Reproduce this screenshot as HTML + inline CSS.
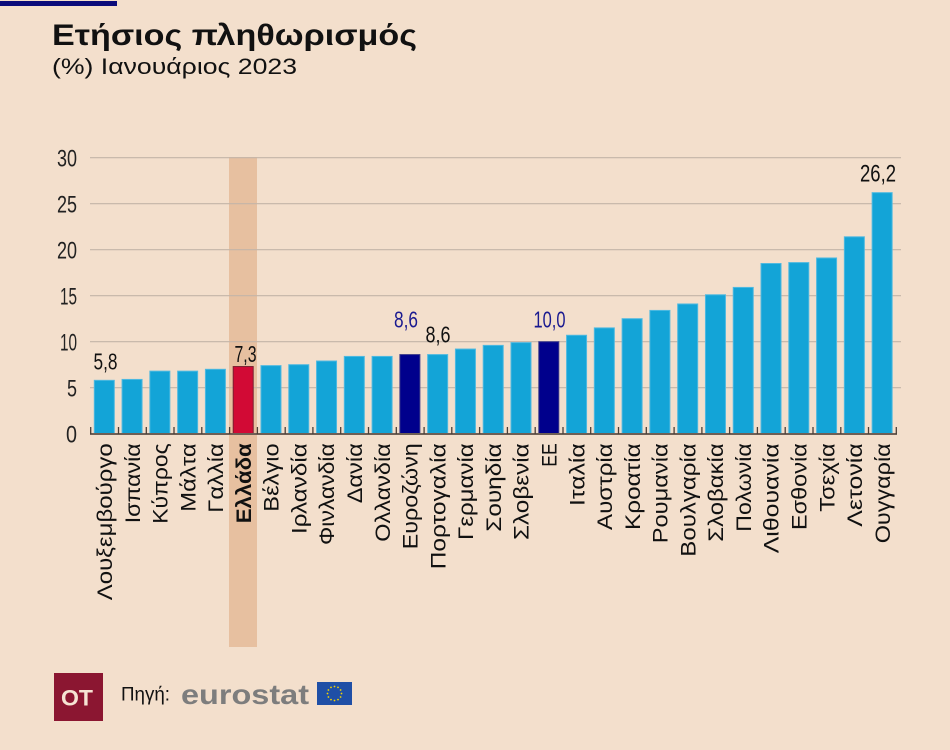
<!DOCTYPE html>
<html><head><meta charset="utf-8"><style>
html,body{margin:0;padding:0;background:#f3dfcc;}
svg{display:block;}
text{font-family:"Liberation Sans","DejaVu Sans",sans-serif;}
</style></head><body>
<svg width="950" height="750" viewBox="0 0 950 750" xmlns="http://www.w3.org/2000/svg">
<rect x="0" y="0" width="950" height="750" fill="#f3dfcc"/>
<rect x="0" y="1" width="117" height="5" fill="#0b0b7a"/>
<text x="52" y="45" font-size="30" font-weight="bold" fill="#111" textLength="365" lengthAdjust="spacingAndGlyphs">Ετήσιος πληθωρισμός</text>
<text x="52" y="74" font-size="22" fill="#111" textLength="245" lengthAdjust="spacingAndGlyphs">(%) Ιανουάριος 2023</text>

<!-- highlight band -->
<rect x="229" y="157" width="28" height="490" fill="#e7c0a0"/>

<!-- gridlines -->
<g stroke="#c3b4a8" stroke-width="1.2">
<line x1="90" y1="387.7" x2="901" y2="387.7"/>
<line x1="90" y1="341.7" x2="901" y2="341.7"/>
<line x1="90" y1="295.7" x2="901" y2="295.7"/>
<line x1="90" y1="249.7" x2="901" y2="249.7"/>
<line x1="90" y1="203.7" x2="901" y2="203.7"/>
<line x1="90" y1="157.7" x2="901" y2="157.7"/>
</g>

<!-- y tick labels -->
<g font-size="24" fill="#222" text-anchor="end">
<text x="77" y="442.5" textLength="11" lengthAdjust="spacingAndGlyphs">0</text>
<text x="77" y="396.5" textLength="10" lengthAdjust="spacingAndGlyphs">5</text>
<text x="77" y="350.5" textLength="17" lengthAdjust="spacingAndGlyphs">10</text>
<text x="77" y="304.5" textLength="17" lengthAdjust="spacingAndGlyphs">15</text>
<text x="77" y="258.5" textLength="20" lengthAdjust="spacingAndGlyphs">20</text>
<text x="77" y="212.5" textLength="20" lengthAdjust="spacingAndGlyphs">25</text>
<text x="77" y="166.5" textLength="20" lengthAdjust="spacingAndGlyphs">30</text>
</g>

<!-- bars -->
<g stroke-width="1">
<rect x="94.3" y="380.34" width="20" height="53.36" fill="#13a4d7" stroke="#4fb9e0"/>
<rect x="122.08" y="379.42" width="20" height="54.28" fill="#13a4d7" stroke="#4fb9e0"/>
<rect x="149.86" y="371.14" width="20" height="62.56" fill="#13a4d7" stroke="#4fb9e0"/>
<rect x="177.64" y="371.14" width="20" height="62.56" fill="#13a4d7" stroke="#4fb9e0"/>
<rect x="205.42" y="369.3" width="20" height="64.4" fill="#13a4d7" stroke="#4fb9e0"/>
<rect x="233.2" y="366.54" width="20" height="67.16" fill="#d20a35" stroke="#7a2030"/>
<rect x="260.98" y="365.62" width="20" height="68.08" fill="#13a4d7" stroke="#4fb9e0"/>
<rect x="288.76" y="364.7" width="20" height="69" fill="#13a4d7" stroke="#4fb9e0"/>
<rect x="316.54" y="361.02" width="20" height="72.68" fill="#13a4d7" stroke="#4fb9e0"/>
<rect x="344.32" y="356.42" width="20" height="77.28" fill="#13a4d7" stroke="#4fb9e0"/>
<rect x="372.1" y="356.42" width="20" height="77.28" fill="#13a4d7" stroke="#4fb9e0"/>
<rect x="399.88" y="354.58" width="20" height="79.12" fill="#00008c" stroke="#3a3a8a"/>
<rect x="427.66" y="354.58" width="20" height="79.12" fill="#13a4d7" stroke="#4fb9e0"/>
<rect x="455.44" y="349.06" width="20" height="84.64" fill="#13a4d7" stroke="#4fb9e0"/>
<rect x="483.22" y="345.38" width="20" height="88.32" fill="#13a4d7" stroke="#4fb9e0"/>
<rect x="511" y="342.62" width="20" height="91.08" fill="#13a4d7" stroke="#4fb9e0"/>
<rect x="538.78" y="341.7" width="20" height="92" fill="#00008c" stroke="#3a3a8a"/>
<rect x="566.56" y="335.26" width="20" height="98.44" fill="#13a4d7" stroke="#4fb9e0"/>
<rect x="594.34" y="327.9" width="20" height="105.8" fill="#13a4d7" stroke="#4fb9e0"/>
<rect x="622.12" y="318.7" width="20" height="115" fill="#13a4d7" stroke="#4fb9e0"/>
<rect x="649.9" y="310.42" width="20" height="123.28" fill="#13a4d7" stroke="#4fb9e0"/>
<rect x="677.68" y="303.98" width="20" height="129.72" fill="#13a4d7" stroke="#4fb9e0"/>
<rect x="705.46" y="294.78" width="20" height="138.92" fill="#13a4d7" stroke="#4fb9e0"/>
<rect x="733.24" y="287.42" width="20" height="146.28" fill="#13a4d7" stroke="#4fb9e0"/>
<rect x="761.02" y="263.5" width="20" height="170.2" fill="#13a4d7" stroke="#4fb9e0"/>
<rect x="788.8" y="262.58" width="20" height="171.12" fill="#13a4d7" stroke="#4fb9e0"/>
<rect x="816.58" y="257.98" width="20" height="175.72" fill="#13a4d7" stroke="#4fb9e0"/>
<rect x="844.36" y="236.82" width="20" height="196.88" fill="#13a4d7" stroke="#4fb9e0"/>
<rect x="872.14" y="192.66" width="20" height="241.04" fill="#13a4d7" stroke="#4fb9e0"/>
</g>

<!-- axis line and ticks -->
<line x1="90" y1="434" x2="897" y2="434" stroke="#6e5f55" stroke-width="2"/>
<g stroke="#4a3f38" stroke-width="1.3">
<line x1="90.7" y1="427" x2="90.7" y2="434"/><line x1="118.5" y1="427" x2="118.5" y2="434"/><line x1="146.3" y1="427" x2="146.3" y2="434"/><line x1="174" y1="427" x2="174" y2="434"/><line x1="201.8" y1="427" x2="201.8" y2="434"/><line x1="229.6" y1="427" x2="229.6" y2="434"/><line x1="257.4" y1="427" x2="257.4" y2="434"/><line x1="285.2" y1="427" x2="285.2" y2="434"/><line x1="312.9" y1="427" x2="312.9" y2="434"/><line x1="340.7" y1="427" x2="340.7" y2="434"/><line x1="368.5" y1="427" x2="368.5" y2="434"/><line x1="396.3" y1="427" x2="396.3" y2="434"/><line x1="424.1" y1="427" x2="424.1" y2="434"/><line x1="451.8" y1="427" x2="451.8" y2="434"/><line x1="479.6" y1="427" x2="479.6" y2="434"/><line x1="507.4" y1="427" x2="507.4" y2="434"/><line x1="535.2" y1="427" x2="535.2" y2="434"/><line x1="563" y1="427" x2="563" y2="434"/><line x1="590.7" y1="427" x2="590.7" y2="434"/><line x1="618.5" y1="427" x2="618.5" y2="434"/><line x1="646.3" y1="427" x2="646.3" y2="434"/><line x1="674.1" y1="427" x2="674.1" y2="434"/><line x1="701.9" y1="427" x2="701.9" y2="434"/><line x1="729.6" y1="427" x2="729.6" y2="434"/><line x1="757.4" y1="427" x2="757.4" y2="434"/><line x1="785.2" y1="427" x2="785.2" y2="434"/><line x1="813" y1="427" x2="813" y2="434"/><line x1="840.8" y1="427" x2="840.8" y2="434"/><line x1="868.5" y1="427" x2="868.5" y2="434"/><line x1="896.3" y1="427" x2="896.3" y2="434"/>
</g>

<!-- value labels -->
<g font-size="23" text-anchor="middle">
<text x="105.5" y="369.5" fill="#111" textLength="24" lengthAdjust="spacingAndGlyphs">5,8</text>
<text x="245.5" y="362" fill="#111" textLength="22" lengthAdjust="spacingAndGlyphs">7,3</text>
<text x="406" y="327.5" fill="#1a1a90" textLength="24" lengthAdjust="spacingAndGlyphs">8,6</text>
<text x="438" y="342.5" fill="#111" textLength="25" lengthAdjust="spacingAndGlyphs">8,6</text>
<text x="549.5" y="327.5" fill="#1a1a90" textLength="32" lengthAdjust="spacingAndGlyphs">10,0</text>
<text x="878" y="181.5" fill="#111" textLength="36" lengthAdjust="spacingAndGlyphs" font-size="24">26,2</text>
</g>

<!-- x labels -->
<g font-size="21" fill="#111" text-anchor="end">
<text transform="translate(112,443.3) rotate(-90)" textLength="157" lengthAdjust="spacingAndGlyphs">Λουξεμβούργο</text>
<text transform="translate(139.8,443.3) rotate(-90)" textLength="80" lengthAdjust="spacingAndGlyphs">Ισπανία</text>
<text transform="translate(167.6,443.3) rotate(-90)" textLength="80.5" lengthAdjust="spacingAndGlyphs">Κύπρος</text>
<text transform="translate(195.3,443.3) rotate(-90)" textLength="68.4" lengthAdjust="spacingAndGlyphs">Μάλτα</text>
<text transform="translate(223.1,443.3) rotate(-90)" textLength="69.4" lengthAdjust="spacingAndGlyphs">Γαλλία</text>
<text transform="translate(250.9,443.3) rotate(-90)" textLength="80" lengthAdjust="spacingAndGlyphs" font-weight="bold">Ελλάδα</text>
<text transform="translate(278.7,443.3) rotate(-90)" textLength="68.4" lengthAdjust="spacingAndGlyphs">Βέλγιο</text>
<text transform="translate(306.5,443.3) rotate(-90)" textLength="90.7" lengthAdjust="spacingAndGlyphs">Ιρλανδία</text>
<text transform="translate(334.2,443.3) rotate(-90)" textLength="101.7" lengthAdjust="spacingAndGlyphs">Φινλανδία</text>
<text transform="translate(362,443.3) rotate(-90)" textLength="60" lengthAdjust="spacingAndGlyphs">Δανία</text>
<text transform="translate(389.8,443.3) rotate(-90)" textLength="98.4" lengthAdjust="spacingAndGlyphs">Ολλανδία</text>
<text transform="translate(417.6,443.3) rotate(-90)" textLength="106" lengthAdjust="spacingAndGlyphs">Ευροζώνη</text>
<text transform="translate(445.4,443.3) rotate(-90)" textLength="126" lengthAdjust="spacingAndGlyphs">Πορτογαλία</text>
<text transform="translate(473.1,443.3) rotate(-90)" textLength="96.7" lengthAdjust="spacingAndGlyphs">Γερμανία</text>
<text transform="translate(500.9,443.3) rotate(-90)" textLength="88.4" lengthAdjust="spacingAndGlyphs">Σουηδία</text>
<text transform="translate(528.7,443.3) rotate(-90)" textLength="96.7" lengthAdjust="spacingAndGlyphs">Σλοβενία</text>
<text transform="translate(556.5,443.3) rotate(-90)" textLength="23.4" lengthAdjust="spacingAndGlyphs">ΕΕ</text>
<text transform="translate(584.3,443.3) rotate(-90)" textLength="62.7" lengthAdjust="spacingAndGlyphs">Ιταλία</text>
<text transform="translate(612,443.3) rotate(-90)" textLength="86.7" lengthAdjust="spacingAndGlyphs">Αυστρία</text>
<text transform="translate(639.8,443.3) rotate(-90)" textLength="86.7" lengthAdjust="spacingAndGlyphs">Κροατία</text>
<text transform="translate(667.6,443.3) rotate(-90)" textLength="100" lengthAdjust="spacingAndGlyphs">Ρουμανία</text>
<text transform="translate(695.4,443.3) rotate(-90)" textLength="113.4" lengthAdjust="spacingAndGlyphs">Βουλγαρία</text>
<text transform="translate(723.2,443.3) rotate(-90)" textLength="98.4" lengthAdjust="spacingAndGlyphs">Σλοβακία</text>
<text transform="translate(750.9,443.3) rotate(-90)" textLength="88.4" lengthAdjust="spacingAndGlyphs">Πολωνία</text>
<text transform="translate(778.7,443.3) rotate(-90)" textLength="110" lengthAdjust="spacingAndGlyphs">Λιθουανία</text>
<text transform="translate(806.5,443.3) rotate(-90)" textLength="86.7" lengthAdjust="spacingAndGlyphs">Εσθονία</text>
<text transform="translate(834.3,443.3) rotate(-90)" textLength="68.4" lengthAdjust="spacingAndGlyphs">Τσεχία</text>
<text transform="translate(862.1,443.3) rotate(-90)" textLength="83.4" lengthAdjust="spacingAndGlyphs">Λετονία</text>
<text transform="translate(889.8,443.3) rotate(-90)" textLength="100" lengthAdjust="spacingAndGlyphs">Ουγγαρία</text>
</g>

<!-- footer -->
<rect x="54" y="673" width="49" height="48" fill="#8b1631"/>
<text x="77" y="705.5" font-size="22" font-weight="bold" fill="#f6e3d3" text-anchor="middle" textLength="32" lengthAdjust="spacingAndGlyphs">OT</text>
<text x="121" y="700.7" font-size="19" fill="#111" textLength="49" lengthAdjust="spacingAndGlyphs">Πηγή:</text>
<text x="181" y="704" font-size="28" font-weight="bold" fill="#7d7d7d" textLength="128" lengthAdjust="spacingAndGlyphs">eurostat</text>
<rect x="317" y="682" width="35" height="23" fill="#1f4fa6"/>
<g fill="#f4d400">
<circle cx="334.5" cy="686.5" r="0.9"/><circle cx="338" cy="687.4" r="0.9"/><circle cx="340.6" cy="690" r="0.9"/><circle cx="341.5" cy="693.5" r="0.9"/><circle cx="340.6" cy="697" r="0.9"/><circle cx="338" cy="699.6" r="0.9"/><circle cx="334.5" cy="700.5" r="0.9"/><circle cx="331" cy="699.6" r="0.9"/><circle cx="328.4" cy="697" r="0.9"/><circle cx="327.5" cy="693.5" r="0.9"/><circle cx="328.4" cy="690" r="0.9"/><circle cx="331" cy="687.4" r="0.9"/>
</g>
</svg>
</body></html>
